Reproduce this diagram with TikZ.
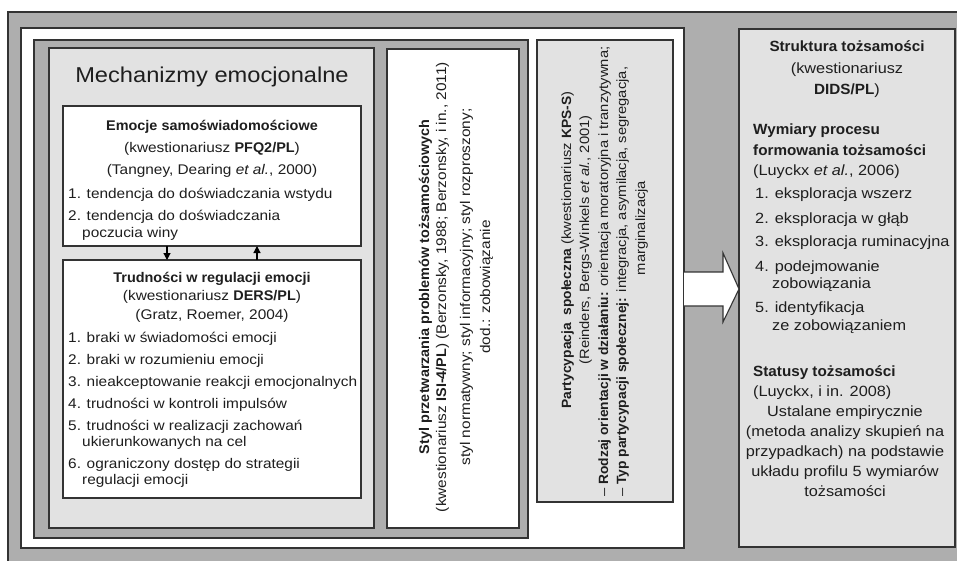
\documentclass[tikz,border=0pt]{standalone}
\usepackage{fontspec}
\setmainfont{Liberation Sans}[UprightFeatures={FakeStretch=1.10},ItalicFeatures={FakeStretch=1.10},BoldFeatures={FakeStretch=1.03},BoldItalicFeatures={FakeStretch=1.03}]
\usetikzlibrary{arrows.meta}
\definecolor{midgray}{HTML}{AEAEAE}
\definecolor{paleg}{HTML}{E2E2E2}
\definecolor{edge}{HTML}{333333}
\definecolor{ink}{HTML}{1E1E1E}
\newcommand\bodyf{\fontsize{14}{16.5}\selectfont}
\newcommand\rightf{\fontsize{14.8}{17.5}\selectfont}
\newcommand\colf{\fontsize{14}{18}\selectfont}
\newcommand\partf{\fontsize{13.4}{18}\selectfont}
\newcommand\titlef{\fontsize{21.5}{24}\selectfont}
\begin{document}
\begin{tikzpicture}[x=1pt,y=-1pt,
  box/.style={draw=edge, line width=1.1pt, anchor=north west, inner sep=0pt, outer sep=0pt},
  tx/.style={inner sep=0pt, font=\bodyf, text=ink},
  txl/.style={tx, anchor=base west},
  txc/.style={tx, anchor=base},
  rtx/.style={tx, anchor=base west, font=\rightf},
  rtc/.style={tx, anchor=base, font=\rightf},
  rot/.style={tx, font=\colf, rotate=90, anchor=base},
  prot/.style={tx, font=\partf, rotate=90, anchor=base},
  protl/.style={tx, font=\partf, rotate=90, anchor=base west},
  conn/.style={draw=black, line width=1.2pt, -{Triangle[width=7pt,length=7pt]}}]
\useasboundingbox (0,0) rectangle (957,561);
\clip (0,0) rectangle (957,561);

% frames
\node[box, fill=midgray, minimum width=960, minimum height=560] (outer) at (8,12) {};
\node[box, fill=white, minimum width=663, minimum height=520] (white) at (21,28) {};
\node[box, fill=midgray, minimum width=494, minimum height=498] (frame) at (34,40) {};
\node[box, fill=paleg, minimum width=325, minimum height=480] (mech) at (49,48) {};
\node[box, fill=white, minimum width=298, minimum height=140] (emo) at (63,106) {};
\node[box, fill=white, minimum width=298, minimum height=238] (ders) at (63,260) {};
\node[box, fill=white, minimum width=132, minimum height=479] (styl) at (387,49) {};
\node[box, fill=paleg, minimum width=136, minimum height=462] (party) at (537,40) {};
\node[box, fill=paleg, minimum width=216, minimum height=518] (right) at (739,29) {};

% big block arrow
\fill[white] (white.east |- 0,272) rectangle (723,306);
\fill[white] (white.east |- 0,272) -- (723,272) -- (723,253) -- (right.west |- 0,289) -- (723,322) -- (723,306) -- (white.east |- 0,306) -- cycle;
\draw[edge, line width=1.1pt] (white.east |- 0,272) -- (723,272) -- (723,253) -- (right.west |- 0,289) -- (723,322) -- (723,306) -- (white.east |- 0,306);

% title
\node[tx, font=\titlef, anchor=base] (title) at (212,83) {Mechanizmy emocjonalne};

% Emocje
\node[txc] (e1) at (212,131) {\textbf{Emocje samoświadomościowe}};
\node[txc] (e2) at (212,153) {(kwestionariusz \textbf{PFQ2/PL})};
\node[txc] (e3) at (212,175) {(Tangney, Dearing \textit{et al.}, 2000)};
\node[txl] (e4) at (68,199) {1. tendencja do doświadczania wstydu};
\node[txl] (e5) at (68,221) {2. tendencja do doświadczania};
\node[txl] (e6) at (82,237) {poczucia winy};

% arrows between boxes
\coordinate (dnx) at (167,0);
\coordinate (upx) at (257,0);
\draw[conn] (emo.south -| dnx) -- (ders.north -| dnx);
\draw[conn] (ders.north -| upx) -- (emo.south -| upx);

% DERS
\node[txc] (d1) at (212,282) {\textbf{Trudności w regulacji emocji}};
\node[txc] (d2) at (212,300) {(kwestionariusz \textbf{DERS/PL})};
\node[txc] (d3) at (212,319) {(Gratz, Roemer, 2004)};
\node[txl] (d4) at (68,342) {1. braki w świadomości emocji};
\node[txl] (d5) at (68,364) {2. braki w rozumieniu emocji};
\node[txl] (d6) at (68,386) {3. nieakceptowanie reakcji emocjonalnych};
\node[txl] (d7) at (68,408) {4. trudności w kontroli impulsów};
\node[txl] (d8) at (68,430) {5. trudności w realizacji zachowań};
\node[txl] (d9) at (82,446) {ukierunkowanych na cel};
\node[txl] (d10) at (68,468) {6. ograniczony dostęp do strategii};
\node[txl] (d11) at (82,484) {regulacji emocji};

% Styl column
\node[rot] (s1) at (429,287) {\textbf{Styl przetwarzania problemów tożsamościowych}};
\node[rot] (s2) at (446,287) {(kwestionariusz \textbf{ISI-4/PL}) (Berzonsky, 1988; Berzonsky, i in., 2011)};
\node[rot] (s3) at (470,287) {styl normatywny; styl informacyjny; styl rozproszony;};
\node[rot] (s4) at (490,287) {dod.: zobowiązanie};

% Partycypacja column
\node[prot] (p1) at (571,250) {\textbf{Partycypacja\ \ społeczna} (kwestionariusz \textbf{KPS-S})};
\node[prot] (p2) at (589,240) {(Reinders, Bergs-Winkels \textit{et al.}, 2001)};
\node[protl] (p3) at (608,497) {– \textbf{Rodzaj orientacji w działaniu:} orientacja moratoryjna i tranzytywna;};
\node[protl] (p4) at (626,497) {– \textbf{Typ partycypacji społecznej:} integracja, asymilacja, segregacja,};
\node[prot] (p5) at (645,228) {marginalizacja};

% right box
\node[rtc] (r1) at (847,52) {\textbf{Struktura tożsamości}};
\node[rtc] (r2) at (847,74) {(kwestionariusz};
\node[rtc] (r3) at (847,95) {\textbf{DIDS/PL})};
\node[rtx] (r4) at (753,135) {\textbf{Wymiary procesu}};
\node[rtx] (r5) at (753,156) {\textbf{formowania tożsamości}};
\node[rtx] (r6) at (753,176) {(Luyckx \textit{et al.}, 2006)};
\node[rtx] (r7) at (755,199) {1. eksploracja wszerz};
\node[rtx] (r8) at (755,223) {2. eksploracja w głąb};
\node[rtx] (r9) at (755,247) {3. eksploracja ruminacyjna};
\node[rtx] (r10) at (755,271) {4. podejmowanie};
\node[rtx] (r11) at (772,288) {zobowiązania};
\node[rtx] (r12) at (755,312) {5. identyfikacja};
\node[rtx] (r13) at (772,330) {ze zobowiązaniem};
\node[rtx] (r14) at (753,376) {\textbf{Statusy tożsamości}};
\node[rtx] (r15) at (753,396) {(Luyckx, i in. 2008)};
\node[rtc] (r16) at (845,416) {Ustalane empirycznie};
\node[rtc] (r17) at (845,436) {(metoda analizy skupień na};
\node[rtc] (r18) at (845,456) {przypadkach) na podstawie};
\node[rtc] (r19) at (845,476) {układu profilu 5 wymiarów};
\node[rtc] (r20) at (845,496) {tożsamości};
\end{tikzpicture}
\end{document}
